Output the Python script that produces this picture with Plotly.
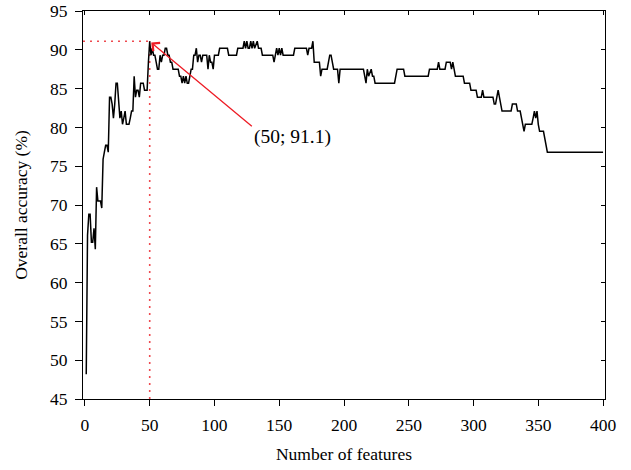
import plotly.graph_objects as go

# Vertices of the accuracy curve (number of features, overall accuracy %)
features = [1, 2, 3, 4, 5, 6, 7, 8, 9, 10, 11, 12, 13, 14, 15, 16, 17, 18, 19, 20,
            21, 22, 23, 24, 25, 26, 27, 28, 29, 30, 31, 32, 33, 34, 35, 36, 37, 38, 39, 40,
            41, 42, 43, 44, 45, 46, 47, 48, 49, 50, 51, 52, 53, 54, 55, 56, 57, 58, 59, 60,
            61, 62, 63, 64, 65, 66, 67, 68, 71, 72, 73, 74, 75, 76, 77, 78, 79, 80, 81, 82,
            83, 84, 85, 86, 87, 88, 89, 90, 91, 94, 95, 96, 97, 98, 99, 100, 103, 104, 110, 111,
            117, 118, 122, 123, 124, 125, 126, 127, 128, 129, 130, 131, 133, 134, 136, 137, 145, 146, 147, 148,
            149, 150, 151, 152, 153, 161, 162, 171, 172, 173, 175, 176, 177, 181, 182, 183, 187, 188, 189, 190,
            191, 192, 195, 196, 197, 215, 216, 217, 218, 219, 221, 222, 223, 224, 239, 240, 241, 246, 247, 265,
            266, 272, 273, 274, 278, 279, 282, 283, 284, 285, 286, 292, 293, 297, 298, 302, 303, 306, 307, 308,
            315, 316, 317, 318, 319, 320, 321, 322, 329, 330, 333, 334, 336, 337, 338, 339, 340, 345, 346, 347,
            348, 349, 350, 351, 354, 355, 356, 357, 400]
accuracy = [48.2, 66.1, 68.8, 68.8, 65.2, 65.2, 67.0, 64.3, 72.3, 70.5, 70.5, 70.5, 69.6, 75.9, 76.8, 77.7, 77.7, 76.8, 83.9, 83.9,
            83.0, 81.2, 83.0, 85.7, 85.7, 83.0, 81.2, 82.1, 80.4, 81.2, 82.1, 80.4, 80.4, 80.4, 81.2, 82.1, 82.1, 86.6, 83.9, 84.8,
            84.8, 83.9, 85.7, 85.7, 85.7, 84.8, 84.8, 84.8, 88.4, 91.1, 89.3, 90.2, 89.3, 89.3, 88.4, 87.5, 87.5, 89.3, 88.4, 89.3,
            89.3, 90.2, 90.2, 89.3, 89.3, 88.4, 88.4, 87.5, 87.5, 87.5, 86.6, 86.6, 85.7, 86.6, 85.7, 86.6, 85.7, 85.7, 86.6, 87.5,
            87.5, 89.3, 89.3, 90.2, 88.4, 89.3, 89.3, 88.4, 89.3, 89.3, 87.5, 89.3, 88.4, 88.4, 87.5, 89.3, 89.3, 90.2, 90.2, 89.3,
            89.3, 90.2, 90.2, 91.1, 90.2, 91.1, 90.2, 90.2, 91.1, 90.2, 91.1, 90.2, 91.1, 90.2, 90.2, 89.3, 89.3, 88.4, 89.3, 90.2,
            89.3, 90.2, 89.3, 90.2, 89.3, 89.3, 90.2, 90.2, 89.3, 90.2, 90.2, 91.1, 88.4, 88.4, 86.6, 87.5, 87.5, 88.4, 89.3, 89.3,
            88.4, 87.5, 87.5, 85.7, 87.5, 87.5, 86.6, 85.7, 87.5, 86.6, 87.5, 86.6, 86.6, 85.7, 85.7, 86.6, 87.5, 87.5, 86.6, 86.6,
            87.5, 87.5, 88.4, 87.5, 87.5, 88.4, 88.4, 87.5, 88.4, 87.5, 86.6, 86.6, 85.7, 85.7, 84.8, 84.8, 83.9, 83.9, 84.8, 83.9,
            83.9, 83.0, 83.0, 83.9, 84.8, 83.9, 83.0, 82.1, 82.1, 83.0, 83.0, 82.1, 82.1, 81.2, 80.4, 79.5, 80.4, 80.4, 81.2, 82.1,
            81.2, 82.1, 80.4, 79.5, 79.5, 78.6, 77.7, 76.8, 76.8]

peak_x = 50
peak_y = 91.1
x_ticks = [0, 50, 100, 150, 200, 250, 300, 350, 400]
y_ticks = [45, 50, 55, 60, 65, 70, 75, 80, 85, 90, 95]

FONT = "Liberation Serif"
x_range = [-1.5, 401.5]
y_range = [45, 95]
RED_DOT = "#ee4a50"

fig = go.Figure()
# red dotted guide lines to the peak
fig.add_trace(go.Scatter(x=[x_range[0], peak_x], y=[peak_y, peak_y], mode="lines",
                         line=dict(color=RED_DOT, width=1.6, dash="2px,5px"),
                         hoverinfo="skip", showlegend=False))
fig.add_trace(go.Scatter(x=[peak_x, peak_x], y=[y_range[0], peak_y], mode="lines",
                         line=dict(color=RED_DOT, width=1.6, dash="2px,5px"),
                         hoverinfo="skip", showlegend=False))
fig.add_trace(go.Scatter(x=features, y=accuracy, mode="lines",
                         line=dict(color="black", width=1.5),
                         showlegend=False))
# invisible trace for mirrored inside ticks
fig.add_trace(go.Scatter(x=[x_range[0]], y=[y_range[0]], xaxis="x2", yaxis="y2",
                         mode="markers", marker=dict(opacity=0), hoverinfo="skip",
                         showlegend=False))

fig.add_annotation(x=peak_x, y=peak_y, ax=130, ay=80, axref="x", ayref="y",
                   xref="x", yref="y", text="", showarrow=True,
                   arrowhead=4, arrowsize=1.6, arrowwidth=1.3, arrowcolor="#ee1c25",
                   standoff=2)
fig.add_annotation(x=129, y=78.7, xref="x", yref="y", text=f"({peak_x}; {peak_y})",
                   showarrow=False, xanchor="left", yanchor="middle",
                   font=dict(family=FONT, size=19.5, color="black"))

axis_common = dict(showgrid=False, zeroline=False, showline=True, linecolor="black",
                   linewidth=1.2, tickcolor="black", tickwidth=1.2, automargin=False,
                   tickfont=dict(family=FONT, size=17.5, color="black"))

fig.update_layout(
    width=631, height=470,
    margin=dict(l=83, r=26, t=11, b=71),
    paper_bgcolor="white", plot_bgcolor="white",
    font=dict(family=FONT, size=17.5, color="black"),
    xaxis=dict(range=x_range, tickvals=x_ticks, ticks="outside", ticklen=6,
               title=dict(text="Number of features", font=dict(family=FONT, size=17.5), standoff=13),
               ticklabelstandoff=4, **axis_common),
    yaxis=dict(range=y_range, tickvals=y_ticks, ticks="outside", ticklen=7,
               title=dict(text="Overall accuracy (%)", font=dict(family=FONT, size=17.5), standoff=17),
               ticklabelstandoff=4, **axis_common),
    xaxis2=dict(overlaying="x", matches="x", side="top", ticks="inside", ticklen=4,
                tickvals=x_ticks, showticklabels=False, showgrid=False, zeroline=False,
                showline=True, linecolor="black", linewidth=1.2, tickcolor="black", tickwidth=1.2,
                anchor="y2", automargin=False),
    yaxis2=dict(overlaying="y", matches="y", side="right", ticks="inside", ticklen=4,
                tickvals=y_ticks, showticklabels=False, showgrid=False, zeroline=False,
                showline=True, linecolor="black", linewidth=1.2, tickcolor="black", tickwidth=1.2,
                anchor="x2", automargin=False),
)

# remove the default 8px page margin so the figure fills the window exactly
fig.write_html("out.html", config={"displayModeBar": False},
               post_script="document.body.style.margin='0px';")
